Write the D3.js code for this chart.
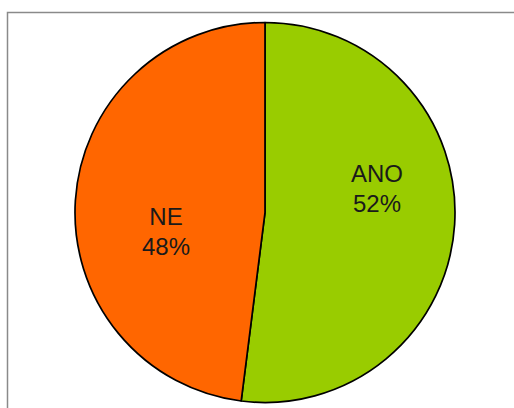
<!DOCTYPE html>
<html>
<head>
<meta charset="utf-8">
<script src="https://cdn.jsdelivr.net/npm/d3@7"></script>
<style>
html,body{margin:0;padding:0;background:#fff;}
svg{display:block;}
</style>
</head>
<body>
<svg id="chart" width="514" height="408"></svg>
<script>
const categories = ["ANO", "NE"];
const values = [52, 48];
const colors = ["#99cc00", "#ff6600"];

const W = 514, H = 408;
const cx = 265, cy = 212.5, R = 190;
// label offset (dx, dy) of each label block from pie centre
const labelOffsets = [[112, -24], [-99, 19]];

const svg = d3.select("#chart");

// chart frame
svg.append("rect")
  .attr("x", 7.5).attr("y", 12.5)
  .attr("width", W + 20).attr("height", H + 20)
  .attr("fill", "#fff")
  .attr("stroke", "#8a8a8a")
  .attr("stroke-width", 1.5);

const color = d3.scaleOrdinal().domain(categories).range(colors);
const pie = d3.pie().sort(null).value(d => d.value);
const data = categories.map((c, i) => ({ name: c, value: values[i] }));
const arcs = pie(data);
const arc = d3.arc().innerRadius(0).outerRadius(R);

const g = svg.append("g").attr("transform", `translate(${cx},${cy})`);

g.selectAll("path.slice")
  .data(arcs)
  .join("path")
  .attr("class", "slice")
  .attr("d", arc)
  .attr("fill", d => color(d.data.name))
  .attr("stroke", "#000")
  .attr("stroke-width", 1.7)
  .attr("stroke-linejoin", "round");

const total = d3.sum(values);
const fmt = d3.format(".0%");

const labels = g.selectAll("text.lbl")
  .data(arcs)
  .join("text")
  .attr("class", "lbl")
  .attr("text-anchor", "middle")
  .attr("font-family", "Liberation Sans, Arial, sans-serif")
  .attr("font-size", 24)
  .attr("fill", "#1a1a1a")
  .attr("transform", (d, i) => `translate(${labelOffsets[i][0]},${labelOffsets[i][1]})`);

labels.append("tspan")
  .attr("x", 0).attr("y", -7)
  .text(d => d.data.name);
labels.append("tspan")
  .attr("x", 0).attr("y", 23)
  .text(d => fmt(d.data.value / total));
</script>
</body>
</html>
